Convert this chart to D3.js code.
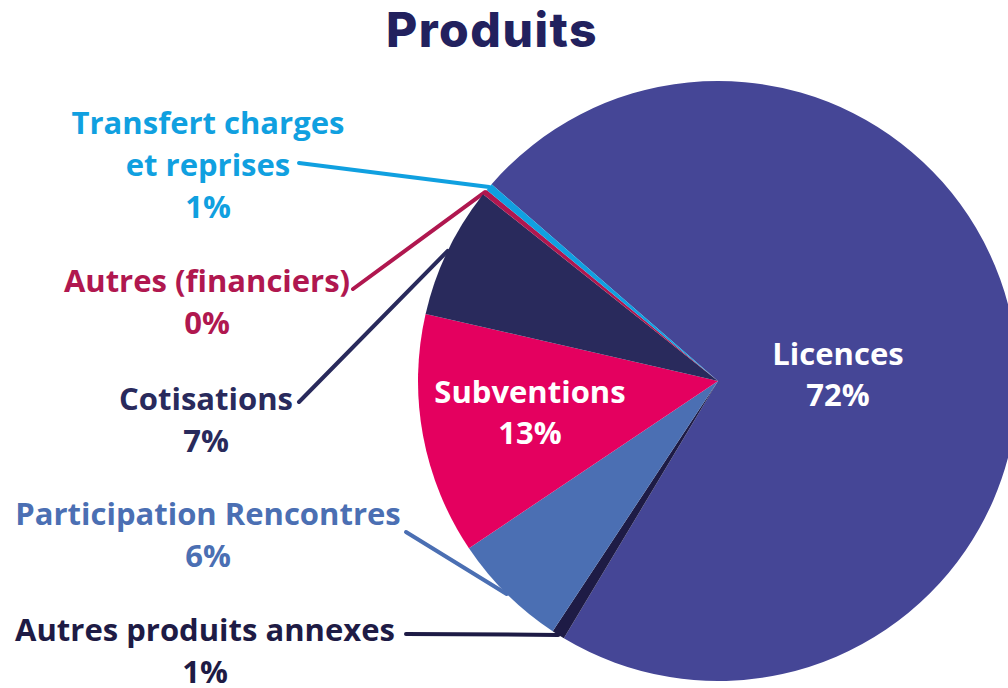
<!DOCTYPE html>
<html>
<head>
<meta charset="utf-8">
<script src="https://cdn.jsdelivr.net/npm/d3@7"></script>
<style>
  body { margin: 0; background: #fff; }
  svg { display: block; }
  text { font-family: "Open Sans", sans-serif; font-weight: 700; }
</style>
</head>
<body>
<div class="chart"></div>
<script>
// slices, in clockwise order starting from Licences
var categories = ['Licences', 'Autres produits annexes', 'Participation Rencontres',
  'Subventions', 'Cotisations', 'Autres (financiers)', 'Transfert charges et reprises'];
var values = [72.2, 0.7, 6.3, 13.0, 7.1, 0.3, 0.4];
var pctLabels = ['72%', '1%', '6%', '13%', '7%', '0%', '1%'];
var colors = ['#454696', '#1e1b45', '#4b6fb3', '#e4005f', '#292a5c', '#b0174f', '#10a0e0'];

// label lines for each slice (inside labels are white)
var labelLines = [
  ['Licences', '72%'],
  ['Autres produits annexes', '1%'],
  ['Participation Rencontres', '6%'],
  ['Subventions', '13%'],
  ['Cotisations', '7%'],
  ['Autres (financiers)', '0%'],
  ['Transfert charges', 'et reprises', '1%']
];

var width = 1008, height = 688;
var cx = 718, cy = 381, radius = 300;

var svg = d3.select('.chart').append('svg')
    .attr('width', width)
    .attr('height', height);

svg.append('text')
    .attr('x', 492)
    .attr('y', 47)
    .attr('text-anchor', 'middle')
    .style('font-family', 'Inter, sans-serif')
    .style('font-weight', 800)
    .style('font-size', '48px')
    .style('letter-spacing', '1.5px')
    .style('fill', '#22215e')
    .text('Produits');

var pie = d3.pie()
    .sort(null)
    .value((d) => d)
    .startAngle(-49 * Math.PI / 180)
    .endAngle(311 * Math.PI / 180);

var arcs = pie(values);

var arc = d3.arc().innerRadius(0).outerRadius(radius);

// outside labels: position of the label block, and where its leader starts
var outside = [
  {i: 6, x: 208, y: 134, lx: 299, ly: 163},
  {i: 5, x: 207, y: 292, lx: 353, ly: 289},
  {i: 4, x: 206, y: 410, lx: 299, ly: 402},
  {i: 2, x: 208, y: 525, lx: 406, ly: 532},
  {i: 1, x: 205, y: 641, lx: 406, ly: 634}
];
var inside = [
  {i: 0, x: 838, y: 365},
  {i: 3, x: 530, y: 403}
];
var lineGap = 42;

// leader lines go under the slices
var pieG = svg.append('g').attr('transform', 'translate(' + cx + ',' + cy + ')');

pieG.selectAll('line.leader')
  .data(outside)
  .enter().append('line')
    .attr('class', 'leader')
    .attr('x1', (d) => d.lx - cx)
    .attr('y1', (d) => d.ly - cy)
    .attr('x2', (d) => {
      var a = (arcs[d.i].startAngle + arcs[d.i].endAngle) / 2;
      return Math.sin(a) * radius;
    })
    .attr('y2', (d) => {
      var a = (arcs[d.i].startAngle + arcs[d.i].endAngle) / 2;
      return -Math.cos(a) * radius;
    })
    .style('stroke', (d) => colors[d.i])
    .style('stroke-width', 4)
    .style('stroke-linecap', 'round');

pieG.selectAll('path.slice')
  .data(arcs)
  .enter().append('path')
    .attr('class', 'slice')
    .attr('d', arc)
    .style('fill', (d, i) => colors[i]);

// text labels
var outG = svg.selectAll('g.outlabel')
  .data(outside)
  .enter().append('g')
    .attr('class', 'outlabel');

outG.each(function(d) {
  var g = d3.select(this);
  labelLines[d.i].forEach((t, k) => {
    g.append('text')
      .attr('x', d.x)
      .attr('y', d.y + k * lineGap)
      .attr('text-anchor', 'middle')
      .style('font-size', '31px')
      .style('fill', colors[d.i])
      .text(t);
  });
});

var inG = svg.selectAll('g.inlabel')
  .data(inside)
  .enter().append('g')
    .attr('class', 'inlabel');

inG.each(function(d) {
  var g = d3.select(this);
  labelLines[d.i].forEach((t, k) => {
    g.append('text')
      .attr('x', d.x)
      .attr('y', d.y + k * 41)
      .attr('text-anchor', 'middle')
      .style('font-size', '31px')
      .style('fill', '#fff')
      .text(t);
  });
});
</script>
</body>
</html>
